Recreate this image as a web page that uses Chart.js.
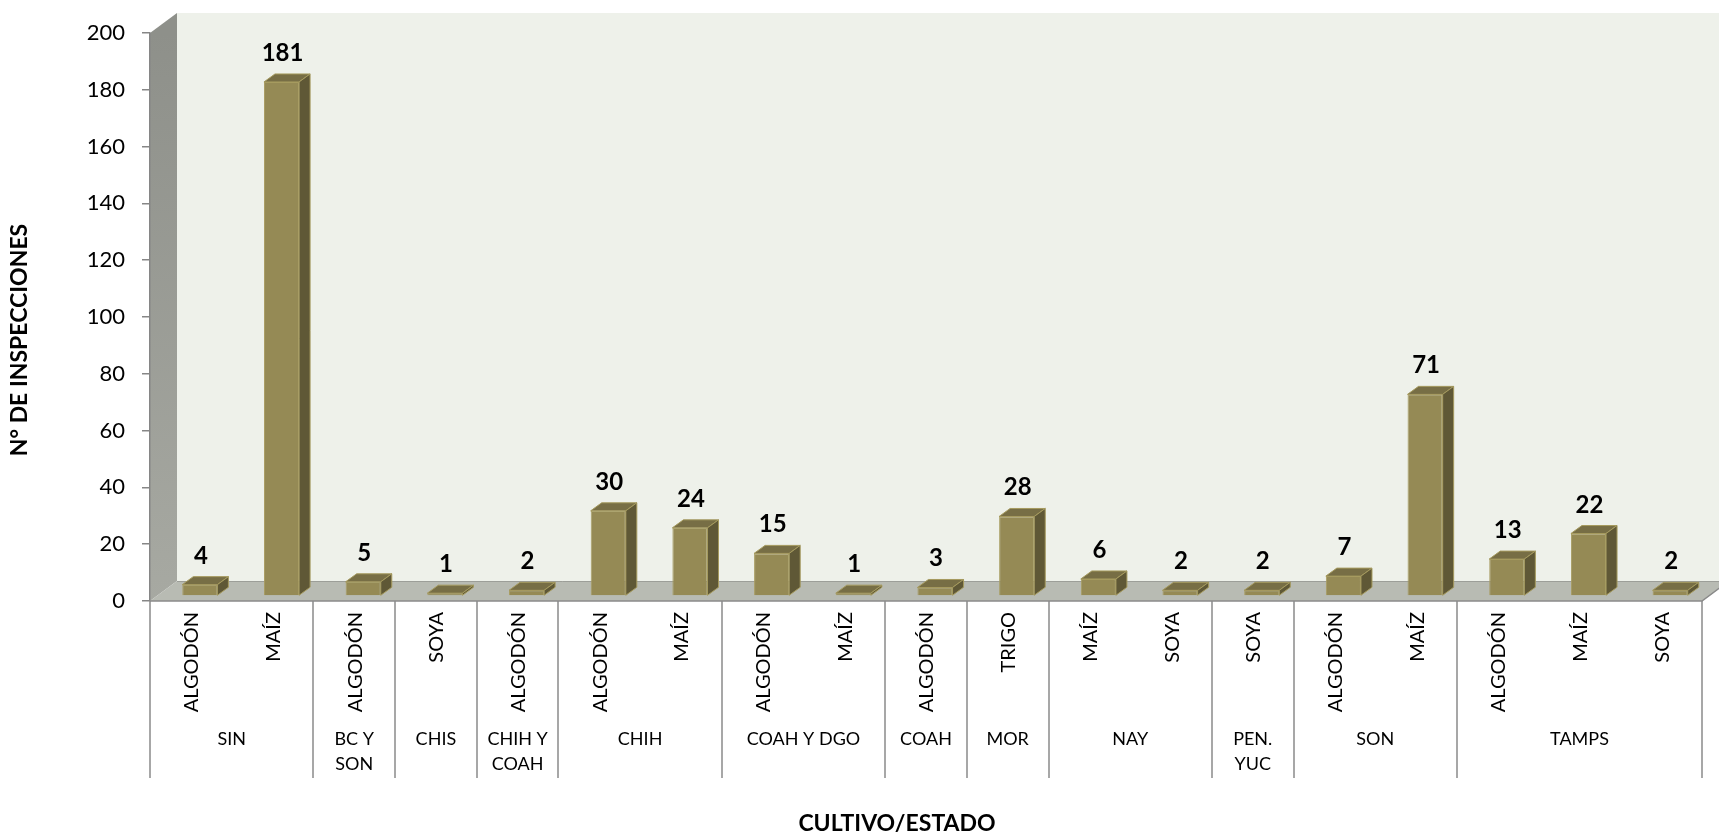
<!DOCTYPE html>
<html><head><meta charset="utf-8">
<script src="https://cdn.jsdelivr.net/npm/chart.js@4.4.1/dist/chart.umd.min.js"></script>
<style>html,body{margin:0;padding:0;background:#fff;overflow:hidden}#wrap{width:1719px;height:837px;position:relative}canvas{display:block}</style>
</head><body><div id="wrap"><canvas id="c" width="1719" height="837"></canvas></div>
<script>
const states = [['SIN'],['BC Y','SON'],['CHIS'],['CHIH Y','COAH'],['CHIH'],['COAH Y DGO'],['COAH'],['MOR'],['NAY'],['PEN.','YUC'],['SON'],['TAMPS']];
const groupSizes = [2,1,1,1,2,2,1,1,2,1,2,3];
const crops = ['ALGODÓN','MAÍZ','ALGODÓN','SOYA','ALGODÓN','ALGODÓN','MAÍZ','ALGODÓN','MAÍZ','ALGODÓN','TRIGO','MAÍZ','SOYA','SOYA','ALGODÓN','MAÍZ','ALGODÓN','MAÍZ','SOYA'];
const values = [4,181,5,1,2,30,24,15,1,3,28,6,2,2,7,71,13,22,2];
const yMin = 0, yMax = 200, yStep = 20;
const yTitle = 'N° DE INSPECCIONES';
const xTitle = 'CULTIVO/ESTADO';

const FONT = 'Lato, "Open Sans", sans-serif';
const WALL_DX = 27, WALL_DY = 20;   // depth of floor / walls
const BAR_OX = 9, BAR_OY = -5;      // bar front plane offset
const BAR_DX = 11, BAR_DY = 8;      // bar depth

const threeD = {
  id: 'threeD',
  beforeDraw(chart) {
    const {ctx, chartArea: {left, right, top, bottom}} = chart;
    const W = chart.width;
    ctx.save();
    // back wall
    ctx.fillStyle = '#EEF1EA';
    ctx.fillRect(left + WALL_DX, top - WALL_DY, W - left - WALL_DX, bottom - top);
    // side wall
    const g = ctx.createLinearGradient(0, top, 0, bottom);
    g.addColorStop(0, '#8E908A'); g.addColorStop(1, '#A7A9A2');
    ctx.fillStyle = g;
    ctx.beginPath();
    ctx.moveTo(left, bottom); ctx.lineTo(left, top);
    ctx.lineTo(left + WALL_DX, top - WALL_DY); ctx.lineTo(left + WALL_DX, bottom - WALL_DY);
    ctx.closePath(); ctx.fill();
    // floor
    ctx.fillStyle = '#B8BBB3';
    ctx.beginPath();
    ctx.moveTo(left, bottom); ctx.lineTo(left + WALL_DX, bottom - WALL_DY);
    ctx.lineTo(right + WALL_DX, bottom - WALL_DY); ctx.lineTo(right, bottom);
    ctx.closePath(); ctx.fill();
    ctx.strokeStyle = '#9C9E98'; ctx.lineWidth = 1;
    ctx.beginPath();
    ctx.moveTo(left + WALL_DX, bottom - WALL_DY + 0.5); ctx.lineTo(W, bottom - WALL_DY + 0.5);
    ctx.stroke();
    ctx.restore();
  },
  beforeDatasetsDraw(chart) {
    chart.ctx.save();
    chart.ctx.translate(BAR_OX, BAR_OY);
  },
  afterDatasetsDraw(chart) {
    const ctx = chart.ctx;
    const meta = chart.getDatasetMeta(0);
    meta.data.forEach((el, i) => {
      const {x, y, base, width} = el.getProps(['x', 'y', 'base', 'width'], true);
      const l = x - width / 2, r = x + width / 2;
      ctx.lineWidth = 1;
      ctx.strokeStyle = '#A59A5E';
      // top face
      ctx.fillStyle = '#776E45';
      ctx.beginPath();
      ctx.moveTo(l, y); ctx.lineTo(l + BAR_DX, y - BAR_DY);
      ctx.lineTo(r + BAR_DX, y - BAR_DY); ctx.lineTo(r, y); ctx.closePath();
      ctx.fill(); ctx.stroke();
      // side face
      ctx.fillStyle = '#5F5836';
      ctx.beginPath();
      ctx.moveTo(r, y); ctx.lineTo(r + BAR_DX, y - BAR_DY);
      ctx.lineTo(r + BAR_DX, base - BAR_DY); ctx.lineTo(r, base); ctx.closePath();
      ctx.fill(); ctx.stroke();
      // value label
      ctx.fillStyle = '#000';
      ctx.font = 'bold 24px ' + FONT;
      ctx.textAlign = 'center';
      ctx.textBaseline = 'alphabetic';
      ctx.fillText(String(values[i]), x + 1, y - BAR_DY - 13);
    });
    ctx.restore();
  },
  afterDraw(chart) {
    const {ctx, chartArea: {left, right, bottom}, scales: {x: xs}} = chart;
    const n = crops.length;
    const catW = (right - left) / n;
    ctx.save();
    ctx.strokeStyle = '#8A8A8A'; ctx.lineWidth = 1.5;
    // front floor edge + right slant
    ctx.beginPath();
    ctx.moveTo(left, bottom); ctx.lineTo(right, bottom);
    ctx.lineTo(right + WALL_DX, bottom - WALL_DY);
    ctx.stroke();
    // group separators
    let idx = 0;
    const bounds = [0];
    groupSizes.forEach(s => { idx += s; bounds.push(idx); });
    bounds.forEach(b => {
      const px = Math.round(xs.getPixelForValue(Math.min(b, n - 1)) + (b === n ? catW / 2 : -catW / 2));
      ctx.beginPath(); ctx.moveTo(px, bottom); ctx.lineTo(px, 778); ctx.stroke();
    });
    // crop labels
    ctx.fillStyle = '#000';
    ctx.font = '20px ' + FONT;
    crops.forEach((c, i) => {
      const px = xs.getPixelForValue(i);
      ctx.save();
      ctx.translate(px + 1, bottom + 11);
      ctx.rotate(-Math.PI / 2);
      ctx.textAlign = 'right'; ctx.textBaseline = 'middle';
      ctx.fillText(c, 0, 0);
      ctx.restore();
    });
    // state labels
    ctx.font = '18px ' + FONT;
    ctx.textAlign = 'center'; ctx.textBaseline = 'middle';
    states.forEach((lines, g) => {
      const a = bounds[g], b = bounds[g + 1] - 1;
      const cx = (xs.getPixelForValue(a) + xs.getPixelForValue(b)) / 2;
      lines.forEach((t, k) => ctx.fillText(t, cx, 739 + k * 25));
    });
    // axis titles
    ctx.font = 'bold 23px ' + FONT;
    ctx.fillText(xTitle, 897, 824);
    ctx.save();
    ctx.translate(20, 340); ctx.rotate(-Math.PI / 2);
    ctx.fillText(yTitle, 0, 0);
    ctx.restore();
    ctx.restore();
  }
};

new Chart(document.getElementById('c'), {
  type: 'bar',
  data: {
    labels: crops,
    datasets: [{
      data: values,
      backgroundColor: '#958A55',
      borderColor: '#A89D62',
      borderWidth: 1,
      barPercentage: 0.43,
      categoryPercentage: 1
    }]
  },
  options: {
    responsive: false,
    animation: false,
    devicePixelRatio: 1,
    layout: {padding: {top: 33, right: 17, left: 0, bottom: 0}},
    plugins: {legend: {display: false}, tooltip: {enabled: false}},
    scales: {
      x: {
        grid: {display: false},
        border: {display: false},
        ticks: {display: false},
        afterFit(s) { s.height = 236; }
      },
      y: {
        min: yMin, max: yMax,
        ticks: {stepSize: yStep, color: '#000', padding: 17, font: {family: FONT, size: 22}},
        grid: {drawOnChartArea: false, tickLength: 8, color: '#868686', lineWidth: 1.5},
        border: {color: '#868686', width: 1.5},
        afterFit(s) { s.width = 150; }
      }
    }
  },
  plugins: [threeD]
});
</script>
</body></html>
